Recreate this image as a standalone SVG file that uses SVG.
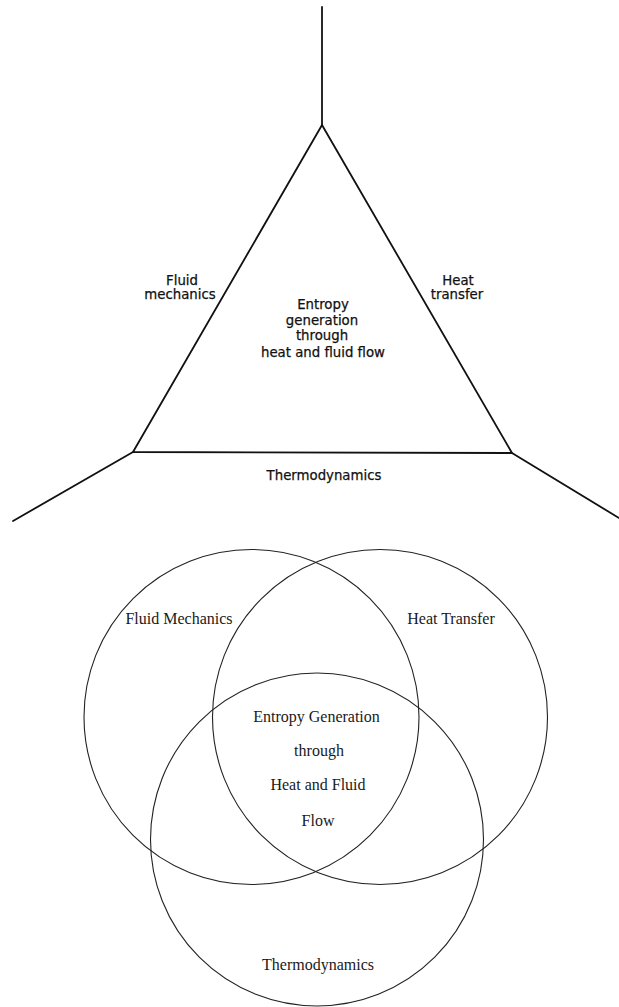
<svg xmlns="http://www.w3.org/2000/svg" width="619" height="1007" viewBox="0 0 619 1007">
<style>
.ln{fill:none;stroke:#111;stroke-width:1.8;stroke-linejoin:round;stroke-linecap:round}
.ci{fill:none;stroke:#222;stroke-width:1.1}
.sa{font-family:"DejaVu Sans","Liberation Sans",sans-serif;font-size:13.3px;fill:#111;stroke:#111;stroke-width:0.25;text-anchor:middle}
.se{font-family:"Liberation Serif","Times New Roman",serif;font-size:16px;fill:#1a1a1a;text-anchor:middle}
</style>
<rect width="619" height="1007" fill="#fff"/>
<g id="connectors">
<path class="ln" d="M322,7 L322,125"/>
<path class="ln" d="M133,452 L13,521"/>
<path class="ln" d="M512,453 L619,518"/>
</g>
<g id="triangle">
<path class="ln" d="M322,125 L512,453 L133,452 Z"/>
<text class="sa" x="323" y="309">Entropy</text>
<text class="sa" x="322" y="325">generation</text>
<text class="sa" x="322" y="340">through</text>
<text class="sa" x="323" y="356.5">heat and fluid flow</text>
</g>
<g id="fluid-mechanics-top">
<text class="sa" x="182" y="285">Fluid</text>
<text class="sa" x="180" y="299">mechanics</text>
</g>
<g id="heat-transfer-top">
<text class="sa" x="458" y="285">Heat</text>
<text class="sa" x="457" y="299">transfer</text>
</g>
<g id="thermodynamics-top">
<text class="sa" x="324" y="480">Thermodynamics</text>
</g>
<g id="venn-fluid-mechanics">
<circle class="ci" cx="251.5" cy="717" r="167.5"/>
<text class="se" x="179" y="624">Fluid Mechanics</text>
</g>
<g id="venn-heat-transfer">
<circle class="ci" cx="380" cy="717" r="167.5"/>
<text class="se" x="451" y="624">Heat Transfer</text>
</g>
<g id="venn-thermodynamics">
<circle class="ci" cx="317" cy="839.5" r="166.5"/>
<text class="se" x="318" y="970">Thermodynamics</text>
</g>
<g id="venn-center">
<text class="se" x="316.5" y="721.5">Entropy Generation</text>
<text class="se" x="319" y="756">through</text>
<text class="se" x="318" y="790">Heat and Fluid</text>
<text class="se" x="318" y="825.5">Flow</text>
</g>
</svg>
